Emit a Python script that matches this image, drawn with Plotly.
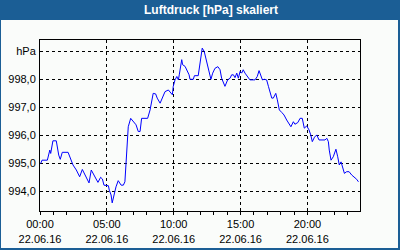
import plotly.graph_objects as go

title_text = "Luftdruck [hPa] skaliert"
date_str = "2016-06-22"
date_label = "22.06.16"

times = ["00:03","00:09","00:33","00:44","00:48","00:58","01:13","01:24","01:31","01:40",
         "02:06","02:18","02:28","02:43","02:58","03:10","03:21","03:32","03:40","03:50",
         "03:58","04:08","04:20","04:32","04:40","04:47","05:07","05:11","05:19","05:24",
         "05:32","05:41","05:51","06:04","06:14","06:21","06:26","06:32","06:36","06:47",
         "06:59","07:11","07:21","07:29","07:36","08:03","08:14","08:21","08:28","08:39",
         "08:46","08:59","09:11","09:21","09:36","09:48","09:54","09:58","10:06","10:14",
         "10:21","10:25","10:36","10:40","10:51","11:09","11:13","11:28","11:33","11:50",
         "11:58","12:08","12:17","12:28","12:35","12:43","12:47","12:55","13:05","13:18",
         "13:28","13:35","13:43","13:50","14:02","14:13","14:20","14:28","14:35","14:43",
         "14:50","14:58","15:05","15:12","15:20","15:30","15:42","16:05","16:15","16:23",
         "16:31","16:38","16:47","16:57","17:05","17:12","17:20","17:27","17:38","17:45",
         "17:54","18:05","18:15","18:27","18:38","18:46","18:57","19:04","19:17","19:27",
         "19:37","19:46","19:57","20:07","20:15","20:22","20:32","20:42","20:52","21:19",
         "21:27","21:34","21:38","21:46","21:56","22:08","22:16","22:23","22:31","22:39",
         "22:46","22:56","23:07","23:19","23:31","23:41","23:49"]

pressure = [995.00,995.12,995.12,995.48,995.36,995.81,995.81,995.30,995.15,995.40,
            995.40,995.12,994.95,994.77,994.53,994.79,994.60,994.47,994.31,994.77,
            994.65,994.53,994.33,994.51,994.45,994.23,994.21,994.05,993.88,993.60,
            993.88,994.17,994.39,994.23,994.23,994.35,995.00,995.96,996.31,996.61,
            996.49,996.38,996.14,996.14,996.61,996.61,996.91,997.15,997.50,997.48,
            997.33,997.15,997.39,997.56,997.62,997.53,997.45,997.75,997.98,998.10,
            997.98,998.16,998.70,998.52,998.46,998.16,998.00,998.00,998.13,998.13,
            998.52,999.11,998.99,998.63,998.39,998.10,998.00,998.22,998.39,998.45,
            998.34,998.04,997.86,997.75,997.98,998.04,998.16,998.16,998.06,998.22,
            998.04,998.28,998.22,998.34,998.22,998.10,997.98,997.98,998.10,998.31,
            998.16,997.98,998.00,997.98,997.75,997.56,997.33,997.33,997.50,997.27,
            996.91,996.82,996.73,996.55,996.38,996.31,996.49,996.40,996.46,996.61,
            996.61,996.26,996.34,996.20,996.02,995.78,995.94,996.02,995.84,995.84,
            995.90,995.78,995.48,995.12,995.24,995.51,995.24,994.95,995.06,994.83,
            994.65,994.71,994.71,994.59,994.51,994.44,994.35]

x_tick_hours = ["00:00", "05:00", "10:00", "15:00", "20:00"]
y_tick_vals = [994, 995, 996, 997, 998, 999]
y_tick_text = ["994,0", "995,0", "996,0", "997,0", "998,0", "hPa"]

x_vals = [f"{date_str} {t}" for t in times]

W, H = 400, 250
L, R, T, B = 40, 40, 40, 39
PW, PH = W - L - R, H - T - B

def px_x(px):
    return (px - L) / PW

def px_y(py):
    return (H - B - py) / PH

BLUE = "#1b5e95"

fig = go.Figure()
fig.add_trace(go.Scatter(x=x_vals, y=pressure, mode="lines",
                         line=dict(color="#0000ff", width=1), hoverinfo="skip"))

fig.update_layout(
    width=W, height=H,
    margin=dict(l=L, r=R, t=T, b=B, autoexpand=False),
    paper_bgcolor=BLUE,
    plot_bgcolor="#ffffff",
    showlegend=False,
    font=dict(family="Liberation Sans", size=11, color="#000000"),
    shapes=[dict(type="rect", xref="paper", yref="paper", layer="below",
                 x0=px_x(1), x1=px_x(398), y0=px_y(248), y1=px_y(20),
                 fillcolor="#fafcfa", line=dict(width=0))],
    annotations=[dict(text=f"<b>{title_text}</b>", xref="paper", yref="paper",
                      x=px_x(211), y=px_y(10.5), xanchor="center", yanchor="middle",
                      showarrow=False,
                      font=dict(family="Liberation Sans", size=12, color="#ffffff"))],
)

fig.update_xaxes(
    type="date", automargin=False,
    range=[f"{date_str} 00:00", f"{date_str} 23:56"],
    tickvals=[f"{date_str} {h}" for h in x_tick_hours],
    ticktext=[f"{h}<br>{date_label}" for h in x_tick_hours],
    showgrid=True, gridcolor="#000000", gridwidth=1, griddash="3px,3px",
    showline=True, linecolor="#000000", linewidth=1, mirror=True,
    ticks="outside", ticklen=3, tickcolor="#000000", tickwidth=1,
    minor=dict(dtick=3600000, ticks="outside", ticklen=3, tickcolor="#000000",
               showgrid=False),
    zeroline=False, fixedrange=True,
)
fig.update_yaxes(
    automargin=False,
    range=[993.31, 999.40],
    tickvals=y_tick_vals, ticktext=y_tick_text,
    showgrid=True, gridcolor="#000000", gridwidth=1, griddash="3px,3px",
    showline=True, linecolor="#000000", linewidth=1, mirror=True,
    ticks="", ticklabelstandoff=1, zeroline=False, fixedrange=True,
)

fig.write_html("out.html", config={"displayModeBar": False})
